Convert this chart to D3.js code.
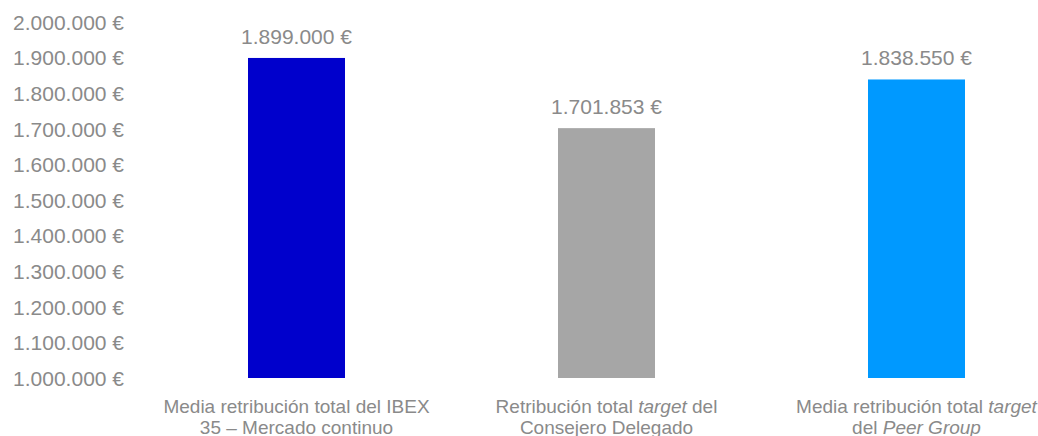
<!DOCTYPE html>
<html>
<head>
<meta charset="utf-8">
<script src="https://cdn.jsdelivr.net/npm/d3@7"></script>
<style>
  html, body { margin: 0; padding: 0; background: #fff; }
  svg { display: block; font-family: "Liberation Sans", Arial, sans-serif; }
</style>
</head>
<body>
<svg id="chart" width="1038" height="436"></svg>
<script>
// Categories: each label is split into lines of [text, italic] runs
const categories = ["ibex", "ceo", "peer"];
const categoryLabels = [
  [[["Media retribución total del IBEX", false]], [["35 – Mercado continuo", false]]],
  [[["Retribución total ", false], ["target", true], [" del", false]], [["Consejero Delegado", false]]],
  [[["Media retribución total ", false], ["target", true]], [["del ", false], ["Peer Group", true]]]
];
const values = [1899000, 1701853, 1838550];
const barColors = ["#0000CC", "#A6A6A6", "#0099FF"];
const yTicks = [1000000, 1100000, 1200000, 1300000, 1400000, 1500000, 1600000, 1700000, 1800000, 1900000, 2000000];

const svg = d3.select("#chart");
const textColor = "#8a8a8a";

const fmt = v => d3.format(",")(v).replace(/,/g, ".") + " €";

const y = d3.scaleLinear().domain([1000000, 2000000]).range([378, 22]);
const p = 1 - 97 / 310;
const x = d3.scaleBand().domain(categories).range([141.5, 1071.5])
  .paddingInner(p).paddingOuter(p / 2);

// Y axis: labels only
const yAxis = d3.axisLeft(y).tickValues(yTicks).tickFormat(fmt).tickSize(0).tickPadding(0);
const gy = svg.append("g").attr("transform", "translate(124,0)").call(yAxis);
gy.select(".domain").remove();
gy.selectAll("text")
  .attr("fill", textColor)
  .style("font-size", "21px")
  .attr("dy", "0.35em");

// Bars
svg.append("g").selectAll("rect")
  .data(categories)
  .join("rect")
  .attr("x", d => x(d))
  .attr("width", x.bandwidth())
  .attr("y", (d, i) => y(values[i]))
  .attr("height", (d, i) => y(1000000) - y(values[i]))
  .attr("fill", (d, i) => barColors[i]);

// Value labels above bars
svg.append("g").selectAll("text")
  .data(categories)
  .join("text")
  .attr("x", d => x(d) + x.bandwidth() / 2)
  .attr("y", (d, i) => y(values[i]) - 14)
  .attr("text-anchor", "middle")
  .attr("fill", textColor)
  .style("font-size", "21px")
  .text((d, i) => fmt(values[i]));

// Category labels below the axis
const xl = svg.append("g");
categories.forEach((c, i) => {
  const cx = x(c) + x.bandwidth() / 2;
  categoryLabels[i].forEach((line, li) => {
    const t = xl.append("text")
      .attr("x", cx)
      .attr("y", 413 + li * 21)
      .attr("text-anchor", "middle")
      .attr("fill", textColor)
      .style("font-size", "19px");
    line.forEach(([txt, it]) => {
      t.append("tspan").style("font-style", it ? "italic" : "normal").text(txt);
    });
  });
});
</script>
</body>
</html>
